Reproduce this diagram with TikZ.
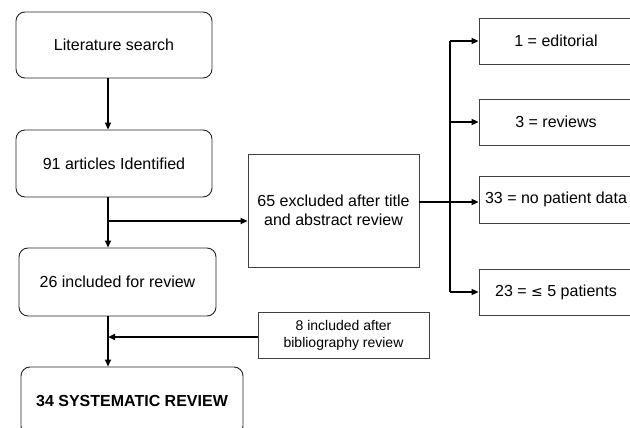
\documentclass[tikz,border=0pt]{standalone}
\usepackage{fontspec}
\setmainfont{Liberation Sans}
\usetikzlibrary{arrows.meta}
\begin{document}
\begin{tikzpicture}[x=1pt,y=-1pt,
 rbox/.style={draw=black!85,line width=0.9pt,rounded corners=9pt,align=center,font=\fontsize{16}{20}\selectfont,inner sep=0pt},
 sbox/.style={draw=black!75,line width=0.8pt,align=center,inner sep=0pt,font=\fontsize{16}{19.5}\selectfont},
 conn/.style={line width=2pt,black},
 arr/.style={conn,-{Triangle[length=7pt,width=6pt]}}]
\useasboundingbox (0,0) rectangle (630,428);
\clip (0,0) rectangle (630,428);
% main column
\node[rbox,minimum width=196pt,minimum height=66pt] (lit) at (114,45) {Literature search};
\node[rbox,minimum width=196pt,minimum height=67pt] (art) at (114,163.5) {91 articles Identified};
\node[rbox,minimum width=197pt,minimum height=68pt] (inc) at (117.5,282) {26 included for review};
\node[rbox,minimum width=222pt,minimum height=68pt] (sys) at (132,401) {\textbf{34 SYSTEMATIC REVIEW}};
% side boxes
\node[sbox,minimum width=171pt,minimum height=113pt] (exc) at (333.5,210.5) {65 excluded after title\\and abstract review};
\node[sbox,minimum width=171pt,minimum height=46pt,font=\fontsize{14}{17}\selectfont] (bib) at (343.5,335) {8 included after\\bibliography review};
% right boxes
\node[sbox,minimum width=154pt,minimum height=46pt] (r1) at (556,41) {1 = editorial};
\node[sbox,minimum width=154pt,minimum height=46pt] (r2) at (556,122) {3 = reviews};
\node[sbox,minimum width=154pt,minimum height=47pt] (r3) at (556,199.5) {33 = no patient data};
\node[sbox,minimum width=154pt,minimum height=46pt] (r4) at (556,292) {23 = {\fontspec{DejaVu Sans}\fontsize{14}{16}\selectfont ≤} 5 patients};
% spine coordinates
\coordinate (sp) at (108,0);
\coordinate (br) at (108,221);
\coordinate (bj) at (108,337);
\coordinate (rv) at (450,0);
\coordinate (ex) at (0,202);
% connectors
\draw[arr] (lit.south -| sp) -- (art.north -| sp);
\draw[arr] (art.south -| sp) -- (inc.north -| sp);
\draw[arr] (br) -- (br -| exc.west);
\draw[arr] (inc.south -| sp) -- (sys.north -| sp);
\draw[arr] (bib.west |- bj) -- (bj);
\draw[arr] (exc.east |- ex) -- (r3.west |- ex);
\draw[conn] (rv |- r1) -- (rv |- r4);
\draw[arr] (rv |- r1) -- (r1.west);
\draw[arr] (rv |- r2) -- (r2.west);
\draw[arr] (rv |- r4) -- (r4.west);
\end{tikzpicture}
\end{document}
